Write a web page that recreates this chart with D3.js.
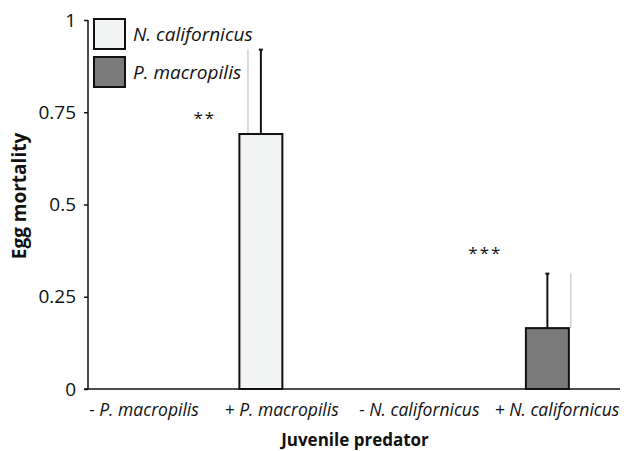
<!DOCTYPE html>
<meta charset="utf-8">
<script src="https://d3js.org/d3.v7.min.js"></script>
<style>
  body { margin: 0; background: #fff; }
  text { font-family: "Open Sans", "Liberation Sans", sans-serif; fill: #111; }
</style>
<svg id="chart" width="627" height="451"></svg>
<script>
// data
const categories = ["- P. macropilis", "+ P. macropilis", "- N. californicus", "+ N. californicus"];
const means = [0, 0.691, 0, 0.165];
const errUpper = [0, 0.921, 0, 0.314];      // black error bar top
const species = ["", "N. californicus", "", "P. macropilis"];
const stars = ["", "**", "", "***"];
const starLevel = [0, 0.742, 0, 0.377];
const yTicks = [0, 0.25, 0.5, 0.75, 1];
const yTickLabels = ["0", "0.25", "0.5", "0.75", "1"];
const legendNames = ["N. californicus", "P. macropilis"];
const legendColors = ["#f3f4f4", "#7a7a7a"];

const svg = d3.select("#chart");
const axisX = 88, baseY = 389, topY = 20;

const x = d3.scaleBand().domain(categories).range([46, 619]).paddingInner(0.7).paddingOuter(0.35);
const xLabel = d3.scalePoint().domain(categories).range([144, 557]);
const y = d3.scaleLinear().domain([0, 1]).range([baseY, topY]);
const color = d3.scaleOrdinal().domain(legendNames).range(legendColors);

// y axis
const yAxis = svg.append("g").attr("transform", `translate(${axisX},0)`)
  .call(d3.axisLeft(y).tickValues(yTicks).tickFormat((d, i) => yTickLabels[i]).tickSize(4).tickPadding(8));
yAxis.select(".domain").attr("stroke", "#111").attr("stroke-width", 1.5).attr("d", `M0,${topY}V${baseY}`);
yAxis.selectAll(".tick line").attr("stroke", "#111").attr("stroke-width", 1.5);
yAxis.selectAll(".tick text").style("font-size", "19px").attr("fill", "#222");

// baseline
svg.append("line").attr("x1", axisX - 4).attr("x2", 620).attr("y1", baseY).attr("y2", baseY)
  .attr("stroke", "#111").attr("stroke-width", 1.5);

// gray companion lines
categories.forEach((c, i) => {
  if (!means[i]) return;
  const gx = i === 1 ? x(c) + x.bandwidth() * 0.2 : x(c) + x.bandwidth() + 2;
  svg.append("line").attr("x1", gx).attr("x2", gx)
    .attr("y1", y(errUpper[i])).attr("y2", y(means[i]))
    .attr("stroke", "#bbb").attr("stroke-width", 1);
});

// bars
svg.append("g").selectAll("rect").data(categories.filter((c, i) => means[i] > 0))
  .join("rect")
  .attr("x", d => x(d))
  .attr("width", x.bandwidth())
  .attr("y", d => y(means[categories.indexOf(d)]))
  .attr("height", d => baseY - y(means[categories.indexOf(d)]))
  .attr("fill", d => color(species[categories.indexOf(d)]))
  .attr("stroke", "#111").attr("stroke-width", 2);

// black error bars
categories.forEach((c, i) => {
  if (!means[i]) return;
  const cx = x(c) + x.bandwidth() / 2;
  svg.append("line").attr("x1", cx).attr("x2", cx)
    .attr("y1", y(errUpper[i])).attr("y2", y(means[i]))
    .attr("stroke", "#111").attr("stroke-width", 2);
  svg.append("line").attr("x1", cx - 2).attr("x2", cx + 2)
    .attr("y1", y(errUpper[i]) + 0.5).attr("y2", y(errUpper[i]) + 0.5)
    .attr("stroke", "#111").attr("stroke-width", 2);
});

// significance stars, left of each bar
stars.forEach((s, i) => {
  if (!s) return;
  const cx = x(categories[i]) + x.bandwidth() / 2 - (i === 1 ? 56 : 62);
  svg.append("text").attr("x", cx).attr("y", y(starLevel[i]) + 9)
    .attr("text-anchor", "middle").style("font-size", "17px").style("letter-spacing", "2px").text(s);
});

// x tick labels
svg.append("g").selectAll("text").data(categories).join("text")
  .attr("x", d => xLabel(d))
  .attr("y", 416)
  .attr("text-anchor", "middle")
  .style("font-size", "17.5px").style("font-style", "italic")
  .text(d => d);

// axis titles
svg.append("text").attr("x", 355).attr("y", 446).attr("text-anchor", "middle")
  .style("font-size", "17px").style("font-weight", "bold").text("Juvenile predator");
svg.append("text").attr("transform", `translate(26,196) rotate(-90)`)
  .attr("text-anchor", "middle").style("font-size", "19px").style("font-weight", "bold").text("Egg mortality");

// legend
const leg = svg.append("g").attr("transform", "translate(94,19)");
legendNames.forEach((n, i) => {
  leg.append("rect").attr("x", 0).attr("y", i * 38).attr("width", 31).attr("height", 30)
    .attr("fill", color(n)).attr("stroke", "#111").attr("stroke-width", 2);
  leg.append("text").attr("x", 39).attr("y", i * 38 + 22)
    .style("font-size", "19px").style("font-style", "italic").text(n);
});
</script>
